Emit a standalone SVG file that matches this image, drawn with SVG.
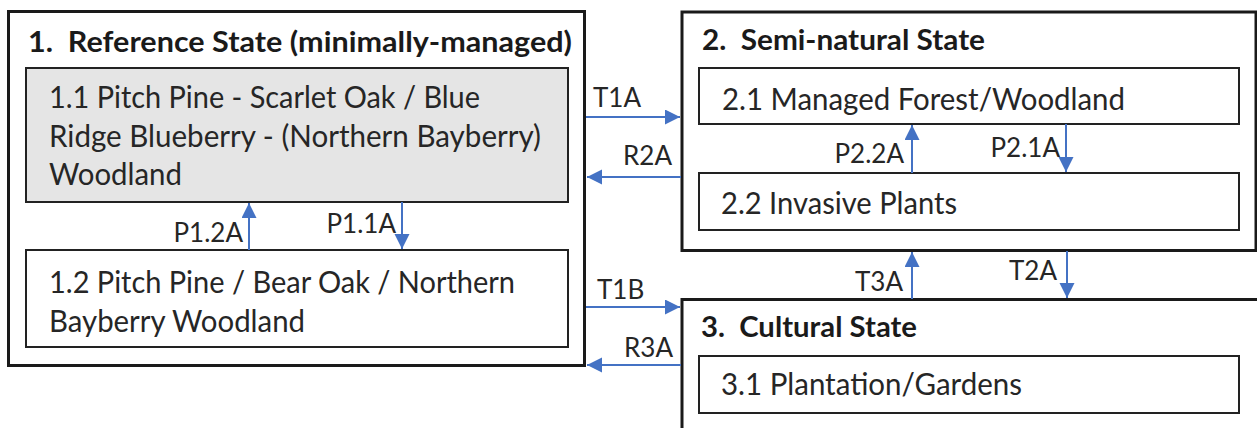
<svg xmlns="http://www.w3.org/2000/svg" width="1257" height="428" viewBox="0 0 1257 428">
<style>
.outer{fill:#fff;stroke:#1a1a1a;stroke-width:3}
.inner{fill:#fff;stroke:#222;stroke-width:2}
.gray{fill:#e5e5e5}
.title{font-family:Lato,"Liberation Sans",sans-serif;font-weight:bold;font-size:28px;fill:#1a1a1a;white-space:pre}
.body{font-family:Lato,"Liberation Sans",sans-serif;font-size:30px;fill:#262626}
.lbl{font-family:Lato,"Liberation Sans",sans-serif;font-size:26px;fill:#262626}
.end{text-anchor:end}
.conn{stroke:#4472C4;stroke-width:2;fill:none}
</style>
<defs>
<marker id="ah" markerUnits="userSpaceOnUse" markerWidth="16" markerHeight="16" refX="15" refY="7.5" orient="auto">
<path d="M0,0 L15,7.5 L0,15 z" fill="#4472C4"/>
</marker>
</defs>
<g id="state1">
<rect class="outer" x="8.5" y="11.5" width="576" height="354"/>
<text class="title" x="28" y="52" textLength="544" lengthAdjust="spacingAndGlyphs" xml:space="preserve">1.  Reference State (minimally-managed)</text>
</g>
<g id="node11">
<rect class="inner gray" x="26" y="68" width="542" height="134"/>
<text class="body" x="49" y="108" textLength="431" lengthAdjust="spacingAndGlyphs">1.1 Pitch Pine - Scarlet Oak / Blue</text>
<text class="body" x="49" y="146.5" textLength="492" lengthAdjust="spacingAndGlyphs">Ridge Blueberry - (Northern Bayberry)</text>
<text class="body" x="49" y="185" textLength="133" lengthAdjust="spacingAndGlyphs">Woodland</text>
</g>
<g id="node12">
<rect class="inner" x="26" y="250" width="542" height="97"/>
<text class="body" x="49" y="293" textLength="466" lengthAdjust="spacingAndGlyphs">1.2 Pitch Pine / Bear Oak / Northern</text>
<text class="body" x="49" y="332" textLength="256" lengthAdjust="spacingAndGlyphs">Bayberry Woodland</text>
</g>
<g id="state2">
<rect class="outer" x="682" y="12" width="574" height="238.5"/>
<text class="title" x="702" y="50" textLength="283" lengthAdjust="spacingAndGlyphs" xml:space="preserve">2.  Semi-natural State</text>
</g>
<g id="node21">
<rect class="inner" x="699" y="68" width="540" height="56"/>
<text class="body" x="722" y="110" textLength="403" lengthAdjust="spacingAndGlyphs">2.1 Managed Forest/Woodland</text>
</g>
<g id="node22">
<rect class="inner" x="699" y="173" width="540" height="57"/>
<text class="body" x="721" y="214" textLength="236" lengthAdjust="spacingAndGlyphs">2.2 Invasive Plants</text>
</g>
<g id="state3">
<rect class="outer" x="682" y="299.5" width="590" height="140"/>
<text class="title" x="701" y="337" textLength="216" lengthAdjust="spacingAndGlyphs" xml:space="preserve">3.  Cultural State</text>
</g>
<g id="node31">
<rect class="inner" x="699" y="356" width="540" height="57"/>
<text class="body" x="721" y="395" textLength="301" lengthAdjust="spacingAndGlyphs">3.1 Plantation/Gardens</text>
</g>
<g id="connectors">
<line class="conn" x1="249" y1="250" x2="249" y2="203" marker-end="url(#ah)"/>
<line class="conn" x1="402" y1="202" x2="402" y2="249" marker-end="url(#ah)"/>
<line class="conn" x1="586" y1="117" x2="680" y2="117" marker-end="url(#ah)"/>
<line class="conn" x1="681" y1="177" x2="587" y2="177" marker-end="url(#ah)"/>
<line class="conn" x1="586" y1="307" x2="680" y2="307" marker-end="url(#ah)"/>
<line class="conn" x1="681" y1="365" x2="587" y2="365" marker-end="url(#ah)"/>
<line class="conn" x1="912" y1="173" x2="912" y2="125" marker-end="url(#ah)"/>
<line class="conn" x1="1066" y1="124" x2="1066" y2="172" marker-end="url(#ah)"/>
<line class="conn" x1="912" y1="299" x2="912" y2="252" marker-end="url(#ah)"/>
<line class="conn" x1="1067" y1="251" x2="1067" y2="298" marker-end="url(#ah)"/>
<text class="lbl end" x="243" y="242">P1.2A</text>
<text class="lbl end" x="396" y="233">P1.1A</text>
<text class="lbl" x="593" y="107">T1A</text>
<text class="lbl end" x="672" y="165">R2A</text>
<text class="lbl" x="597" y="299">T1B</text>
<text class="lbl end" x="673" y="357">R3A</text>
<text class="lbl end" x="904" y="163">P2.2A</text>
<text class="lbl end" x="1060" y="157">P2.1A</text>
<text class="lbl end" x="903" y="291">T3A</text>
<text class="lbl end" x="1057" y="280">T2A</text>
</g>
</svg>
